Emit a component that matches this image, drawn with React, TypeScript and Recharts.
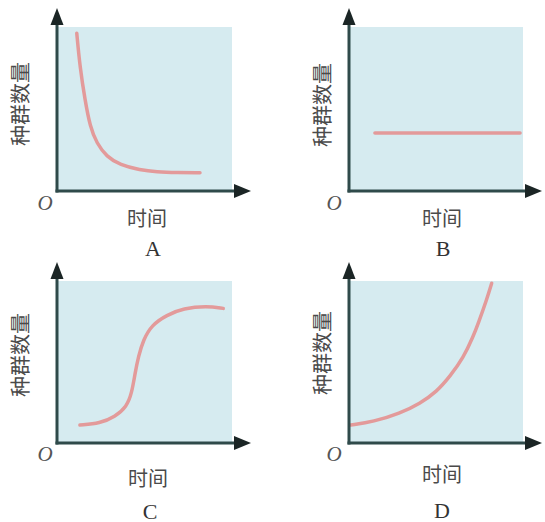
import React from 'react';
import { LineChart, Line, XAxis, YAxis, ReferenceArea } from 'recharts';

// Panel A: population declining
const aTime = [1.13, 1.31, 1.6, 1.89, 2.27, 2.84, 3.6, 4.74, 5.7, 6.84, 8.17];
const aCount = [9.62, 7.58, 5.55, 3.92, 2.91, 2.09, 1.59, 1.28, 1.16, 1.12, 1.12];
// Panel B: constant
const bTime = [1.49, 9.83];
const bCount = [3.54, 3.54];
// Panel C: S-shaped
const cTime = [1.31, 2.46, 3.31, 3.98, 4.27, 4.46, 4.65, 4.93, 5.41, 6.27, 7.22, 8.55, 9.5];
const cCount = [1.11, 1.22, 1.62, 2.24, 3.07, 4.3, 5.33, 6.36, 7.28, 7.9, 8.31, 8.46, 8.31];
// Panel D: J-shaped
const dTime = [0.1, 1.4, 2.93, 4.08, 5.04, 5.8, 6.57, 7.14, 7.43, 7.91, 8.2];
const dCount = [1.11, 1.31, 1.83, 2.44, 3.17, 4.11, 5.25, 6.58, 7.39, 8.83, 9.86];

const captions = ['A', 'B', 'C', 'D'];
const xLabel = '时间';
const yLabel = '种群数量';
const originLabel = 'O';

const build = (t: number[], c: number[]) => t.map((v, i) => ({ t: v, n: c[i] }));

const AXIS = '#2f4a4a';
const ARROW = '#1b2525';
const BG = '#d6ebf0';
const CURVE = '#e39a9a';
const CJK = '"Noto Sans CJK SC", sans-serif';
const SERIF = '"Liberation Serif", "Times New Roman", serif';

type Lay = {
  left: number; top: number; w: number; h: number;
  m: { top: number; right: number; bottom: number; left: number };
  o: [number, number]; tx: [number, number]; cap: [number, number]; yl: [number, number];
};

const layouts: Lay[] = [
  { left: 0, top: 0, w: 272, h: 261, m: { top: 27, right: 40, bottom: 69, left: 56 }, o: [-12, 12], tx: [90, 26], cap: [96, 57], yl: [-37, 77] },
  { left: 272, top: 0, w: 273, h: 261, m: { top: 27, right: 22, bottom: 69, left: 76 }, o: [-15, 12], tx: [93, 26], cap: [94, 57], yl: [-27, 78] },
  { left: 0, top: 261, w: 272, h: 261, m: { top: 20, right: 40, bottom: 78, left: 56 }, o: [-12, 11], tx: [91, 34], cap: [93, 68], yl: [-37, 74] },
  { left: 272, top: 261, w: 273, h: 261, m: { top: 20, right: 22, bottom: 78, left: 76 }, o: [-15, 11], tx: [93, 30], cap: [93, 67], yl: [-27, 72] },
];

const curveTypes: ('monotone' | 'basis' | 'linear')[] = ['basis', 'linear', 'basis', 'basis'];

const XDecor = (props: any) => {
  const { viewBox, lay, caption } = props;
  if (!viewBox) return null;
  const { x, y, width } = viewBox;
  const right = x + width;
  return (
    <g>
      <line x1={x - 1.5} y1={y} x2={right + 4} y2={y} stroke={AXIS} strokeWidth={3} />
      <polygon points={`${right + 19},${y} ${right + 2},${y - 7} ${right + 2},${y + 7}`} fill={ARROW} />
      <text x={x + lay.o[0]} y={y + lay.o[1]} textAnchor="middle" dominantBaseline="central" fontFamily={SERIF} fontStyle="italic" fontSize={21} fill="#555">{originLabel}</text>
      <text x={x + lay.tx[0]} y={y + lay.tx[1]} textAnchor="middle" dominantBaseline="central" fontFamily={CJK} fontSize={20} fill="#4a4a4a">{xLabel}</text>
      <text x={x + lay.cap[0]} y={y + lay.cap[1]} textAnchor="middle" dominantBaseline="central" fontFamily={SERIF} fontSize={22} fill="#333">{caption}</text>
    </g>
  );
};

const YDecor = (props: any) => {
  const { viewBox, lay } = props;
  if (!viewBox) return null;
  const { x, y, width, height } = viewBox;
  const px = x + width;
  const bottom = y + height;
  const lx = px + lay.yl[0];
  const ly = y + lay.yl[1];
  return (
    <g>
      <line x1={px} y1={bottom + 1.5} x2={px} y2={y - 4} stroke={AXIS} strokeWidth={3} />
      <polygon points={`${px},${y - 19} ${px - 6.5},${y - 2} ${px + 6.5},${y - 2}`} fill={ARROW} />
      <g transform={`rotate(-90 ${lx} ${ly})`}>
        <text x={lx} y={ly} textAnchor="middle" dominantBaseline="central" fontFamily={CJK} fontSize={21} fill="#4a4a4a" textRendering="geometricPrecision">{yLabel}</text>
      </g>
    </g>
  );
};

const Panel = ({ data, lay, caption, curve }: { data: { t: number; n: number }[]; lay: Lay; caption: string; curve: any }) => (
  <div style={{ position: 'absolute', left: lay.left, top: lay.top }}>
    <LineChart width={lay.w} height={lay.h} data={data} margin={lay.m} style={{ overflow: 'visible' }}>
      <XAxis type="number" dataKey="t" domain={[0, 10]} tick={false} tickLine={false} axisLine={false} height={1}
        label={<XDecor lay={lay} caption={caption} />} />
      <YAxis type="number" dataKey="n" domain={[0, 10]} tick={false} tickLine={false} axisLine={false} width={1}
        label={<YDecor lay={lay} />} />
      <ReferenceArea x1={0} x2={10} y1={0} y2={10} fill={BG} fillOpacity={1} stroke="none" />
      <Line type={curve} dataKey="n" stroke={CURVE} strokeWidth={3.5} strokeLinecap="round" dot={false} isAnimationActive={false} />
    </LineChart>
  </div>
);

export default function App() {
  const sets = [build(aTime, aCount), build(bTime, bCount), build(cTime, cCount), build(dTime, dCount)];
  return (
    <div style={{ position: 'absolute', left: 0, top: 0, width: 545, height: 522, background: '#fff' }}>
      {sets.map((d, i) => (
        <Panel key={captions[i]} data={d} lay={layouts[i]} caption={captions[i]} curve={curveTypes[i]} />
      ))}
    </div>
  );
}
